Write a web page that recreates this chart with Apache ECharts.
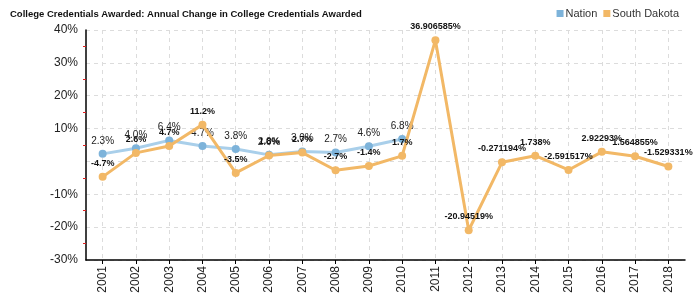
<!DOCTYPE html>
<html>
<head>
<meta charset="utf-8">
<script src="https://cdn.jsdelivr.net/npm/echarts@6/dist/echarts.min.js"></script>
<style>html,body{margin:0;padding:0;background:#fff}#c{width:700px;height:300px}</style>
</head>
<body>
<div id="c"></div>
<script>
var years = ['2001','2002','2003','2004','2005','2006','2007','2008','2009','2010','2011','2012','2013','2014','2015','2016','2017','2018'];
var nation = [2.3, 4.0, 6.4, 4.7, 3.8, 2.0, 3.0, 2.7, 4.6, 6.8, null, null, null, null, null, null, null, null];
var southDakota = [-4.7, 2.6, 4.7, 11.2, -3.5, 1.8, 2.7, -2.7, -1.4, 1.7, 36.906585, -20.94519, -0.271194, 1.738, -2.591517, 2.92293, 1.564855, -1.529331];
var yTicks = [-30, -20, -10, 0, 10, 20, 30, 40];

var chart = echarts.init(document.getElementById('c'));
var font = 'Liberation Sans, Arial, sans-serif';
chart.setOption({
  animation: false,
  textStyle: {fontFamily: font},
  title: {
    text: 'College Credentials Awarded: Annual Change in College Credentials Awarded',
    left: 5, top: 4,
    textStyle: {fontSize: 9.5, fontWeight: 'bold', color: '#111', fontFamily: font}
  },
  legend: {
    right: 16, top: 3,
    itemWidth: 7, itemHeight: 7, itemGap: 6,
    icon: 'rect',
    textStyle: {fontSize: 11, color: '#333', fontFamily: font, padding: [0, 0, 0, -3]},
    data: ['Nation', 'South Dakota']
  },
  grid: {left: 86, right: 15, top: 30, bottom: 40},
  xAxis: {
    type: 'category',
    data: years,
    boundaryGap: true,
    axisLine: {onZero: false, lineStyle: {color: '#000', width: 1.5}},
    axisTick: {show: true, alignWithLabel: true, length: 4, lineStyle: {color: '#000'}},
    axisLabel: {rotate: 90, fontSize: 12, color: '#222', margin: 6, fontFamily: font},
    splitLine: {show: true, alignWithLabel: true, lineStyle: {color: '#dcdcdc', type: [4, 4]}}
  },
  yAxis: {
    type: 'value',
    min: yTicks[0], max: yTicks[yTicks.length - 1], interval: 10,
    axisLine: {show: true, lineStyle: {color: '#000', width: 1.5}},
    axisTick: {show: false},
    minorTick: {show: true, splitNumber: 2, length: 3, lineStyle: {color: '#e02020', width: 1}},
    axisLabel: {
      fontSize: 12, color: '#222', margin: 8, fontFamily: font,
      formatter: function (v) { return v === 0 ? '' : v + '%'; }
    },
    splitLine: {show: true, lineStyle: {color: '#dcdcdc', type: [4, 4]}}
  },
  series: [
    {
      name: 'Nation', type: 'line', data: nation,
      symbol: 'circle', symbolSize: 8,
      itemStyle: {color: '#7db3da'},
      lineStyle: {color: '#a9cfea', width: 3},
      label: {
        show: true, position: 'top', distance: 4, fontSize: 10, color: '#222', fontFamily: font,
        formatter: function (p) { return p.value.toFixed(1) + '%'; }
      },
      z: 2
    },
    {
      name: 'South Dakota', type: 'line', data: southDakota,
      symbol: 'circle', symbolSize: 8,
      itemStyle: {color: '#f2b866'},
      lineStyle: {color: '#f2b866', width: 3},
      label: {
        show: true, position: 'top', distance: 5, fontSize: 9, fontWeight: 'bold', color: '#111', fontFamily: font,
        formatter: function (p) { return p.value + '%'; }
      },
      z: 3
    }
  ]
});
</script>
</body>
</html>
